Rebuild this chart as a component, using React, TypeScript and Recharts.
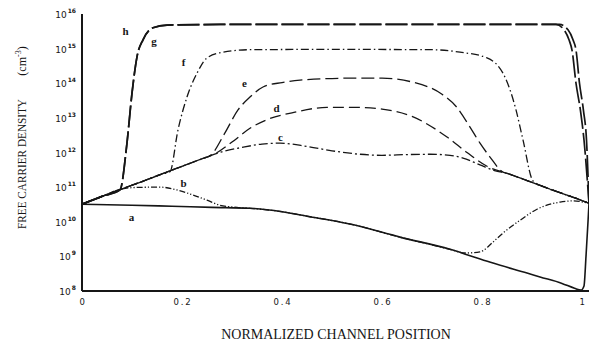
import React from "react";
import { LineChart, Line, XAxis, YAxis, ReferenceDot } from "recharts";

type Pt = { x: number; n: number };

// Free carrier density (cm^-3) against normalized channel position, curves a–h
const curveA: Pt[] = [
  { x: 0, n: 3.2e10 },
  { x: 0.1, n: 3.0e10 },
  { x: 0.18, n: 2.8e10 },
  { x: 0.26, n: 2.6e10 },
  { x: 0.336, n: 2.45e10 },
  { x: 0.4, n: 1.95e10 },
  { x: 0.45, n: 1.45e10 },
  { x: 0.536, n: 8.6e9 },
  { x: 0.636, n: 3.6e9 },
  { x: 0.736, n: 1.6e9 },
  { x: 0.776, n: 1.05e9 },
  { x: 0.822, n: 6.4e8 },
  { x: 0.89, n: 3.3e8 },
  { x: 0.916, n: 2.55e8 },
  { x: 0.96, n: 1.66e8 },
  { x: 0.985, n: 1.2e8 },
  { x: 0.998, n: 1.06e8 },
  { x: 1.004, n: 1.4e8 },
  { x: 1.008, n: 1.0e9 },
  { x: 1.012, n: 1.0e10 },
  { x: 1.014, n: 3.4e10 },
];

const curveB: Pt[] = [
  { x: 0, n: 3.2e10 },
  { x: 0.04, n: 5.4e10 },
  { x: 0.08, n: 8.9e10 },
  { x: 0.11, n: 9.8e10 },
  { x: 0.156, n: 1.0e11 },
  { x: 0.19, n: 8.3e10 },
  { x: 0.222, n: 5.9e10 },
  { x: 0.25, n: 4.2e10 },
  { x: 0.276, n: 3.0e10 },
  { x: 0.31, n: 2.6e10 },
  { x: 0.336, n: 2.45e10 },
  { x: 0.4, n: 1.95e10 },
  { x: 0.45, n: 1.45e10 },
  { x: 0.536, n: 8.6e9 },
  { x: 0.636, n: 3.6e9 },
  { x: 0.736, n: 1.6e9 },
  { x: 0.766, n: 1.25e9 },
  { x: 0.796, n: 1.35e9 },
  { x: 0.822, n: 2.6e9 },
  { x: 0.842, n: 4.7e9 },
  { x: 0.876, n: 1.1e10 },
  { x: 0.91, n: 2.3e10 },
  { x: 0.956, n: 3.7e10 },
  { x: 0.982, n: 4.0e10 },
  { x: 1.014, n: 3.4e10 },
];

const curveC: Pt[] = [
  { x: 0, n: 3.2e10 },
  { x: 0.04, n: 5.4e10 },
  { x: 0.08, n: 8.9e10 },
  { x: 0.12, n: 1.45e11 },
  { x: 0.16, n: 2.4e11 },
  { x: 0.2, n: 4.0e11 },
  { x: 0.24, n: 6.6e11 },
  { x: 0.28, n: 1.05e12 },
  { x: 0.32, n: 1.4e12 },
  { x: 0.36, n: 1.75e12 },
  { x: 0.396, n: 1.86e12 },
  { x: 0.45, n: 1.5e12 },
  { x: 0.5, n: 1.12e12 },
  { x: 0.556, n: 8.9e11 },
  { x: 0.6, n: 8.3e11 },
  { x: 0.65, n: 8.7e11 },
  { x: 0.696, n: 8.9e11 },
  { x: 0.736, n: 8.3e11 },
  { x: 0.762, n: 6.9e11 },
  { x: 0.796, n: 4.4e11 },
  { x: 0.825, n: 3.0e11 },
  { x: 0.852, n: 2.45e11 },
  { x: 0.88, n: 1.75e11 },
  { x: 0.92, n: 1.07e11 },
  { x: 0.96, n: 6.6e10 },
  { x: 1.0, n: 4.1e10 },
  { x: 1.014, n: 3.4e10 },
];

const curveD: Pt[] = [
  { x: 0, n: 3.2e10 },
  { x: 0.04, n: 5.4e10 },
  { x: 0.08, n: 8.9e10 },
  { x: 0.12, n: 1.45e11 },
  { x: 0.16, n: 2.4e11 },
  { x: 0.2, n: 4.0e11 },
  { x: 0.24, n: 6.6e11 },
  { x: 0.265, n: 9.0e11 },
  { x: 0.3, n: 2.0e12 },
  { x: 0.336, n: 5.0e12 },
  { x: 0.37, n: 8.9e12 },
  { x: 0.42, n: 1.4e13 },
  { x: 0.49, n: 2.0e13 },
  { x: 0.556, n: 2.0e13 },
  { x: 0.6, n: 1.8e13 },
  { x: 0.66, n: 1.1e13 },
  { x: 0.73, n: 2.8e12 },
  { x: 0.77, n: 1.0e12 },
  { x: 0.81, n: 4.0e11 },
  { x: 0.852, n: 2.45e11 },
  { x: 0.88, n: 1.75e11 },
  { x: 0.92, n: 1.07e11 },
  { x: 0.96, n: 6.6e10 },
  { x: 1.0, n: 4.1e10 },
  { x: 1.014, n: 3.4e10 },
];

const curveE: Pt[] = [
  { x: 0, n: 3.2e10 },
  { x: 0.04, n: 5.4e10 },
  { x: 0.08, n: 8.9e10 },
  { x: 0.12, n: 1.45e11 },
  { x: 0.16, n: 2.4e11 },
  { x: 0.2, n: 4.0e11 },
  { x: 0.24, n: 6.6e11 },
  { x: 0.258, n: 8.5e11 },
  { x: 0.285, n: 3.5e12 },
  { x: 0.312, n: 1.7e13 },
  { x: 0.336, n: 4.0e13 },
  { x: 0.362, n: 7.8e13 },
  { x: 0.4, n: 1.05e14 },
  { x: 0.436, n: 1.23e14 },
  { x: 0.536, n: 1.4e14 },
  { x: 0.6, n: 1.4e14 },
  { x: 0.662, n: 1.07e14 },
  { x: 0.72, n: 4.8e13 },
  { x: 0.75, n: 2.0e13 },
  { x: 0.776, n: 5.4e12 },
  { x: 0.796, n: 1.86e12 },
  { x: 0.816, n: 7.4e11 },
  { x: 0.842, n: 2.7e11 },
  { x: 0.852, n: 2.45e11 },
  { x: 0.88, n: 1.75e11 },
  { x: 0.92, n: 1.07e11 },
  { x: 0.96, n: 6.6e10 },
  { x: 1.0, n: 4.1e10 },
  { x: 1.014, n: 3.4e10 },
];

const curveF: Pt[] = [
  { x: 0, n: 3.2e10 },
  { x: 0.04, n: 5.4e10 },
  { x: 0.08, n: 8.9e10 },
  { x: 0.12, n: 1.45e11 },
  { x: 0.16, n: 2.4e11 },
  { x: 0.176, n: 2.8e11 },
  { x: 0.192, n: 4.5e12 },
  { x: 0.21, n: 4.0e13 },
  { x: 0.23, n: 1.95e14 },
  { x: 0.25, n: 5.4e14 },
  { x: 0.282, n: 7.9e14 },
  { x: 0.336, n: 9.3e14 },
  { x: 0.5, n: 9.5e14 },
  { x: 0.7, n: 9.3e14 },
  { x: 0.756, n: 7.9e14 },
  { x: 0.81, n: 5.4e14 },
  { x: 0.846, n: 1.5e14 },
  { x: 0.868, n: 1.7e13 },
  { x: 0.882, n: 2.3e12 },
  { x: 0.902, n: 1.5e11 },
  { x: 0.92, n: 1.07e11 },
  { x: 0.96, n: 6.6e10 },
  { x: 1.0, n: 4.1e10 },
  { x: 1.014, n: 3.4e10 },
];

const curveG: Pt[] = [
  { x: 0, n: 3.2e10 },
  { x: 0.04, n: 5.4e10 },
  { x: 0.076, n: 8.3e10 },
  { x: 0.09, n: 1.9e12 },
  { x: 0.1, n: 5.2e13 },
  { x: 0.11, n: 5.8e14 },
  { x: 0.122, n: 1.8e15 },
  { x: 0.142, n: 4.0e15 },
  { x: 0.17, n: 4.8e15 },
  { x: 0.3, n: 5.0e15 },
  { x: 0.6, n: 5.0e15 },
  { x: 0.948, n: 5.0e15 },
  { x: 0.964, n: 3.5e15 },
  { x: 0.974, n: 1.8e15 },
  { x: 0.98, n: 9.1e14 },
  { x: 0.988, n: 1.0e14 },
  { x: 0.997, n: 1.6e13 },
  { x: 1.004, n: 2.3e12 },
  { x: 1.014, n: 3.4e10 },
];

const curveH: Pt[] = [
  { x: 0, n: 3.2e10 },
  { x: 0.04, n: 5.4e10 },
  { x: 0.076, n: 8.3e10 },
  { x: 0.09, n: 1.9e12 },
  { x: 0.1, n: 5.2e13 },
  { x: 0.11, n: 5.8e14 },
  { x: 0.122, n: 1.8e15 },
  { x: 0.142, n: 4.0e15 },
  { x: 0.17, n: 4.8e15 },
  { x: 0.3, n: 5.0e15 },
  { x: 0.6, n: 5.0e15 },
  { x: 0.955, n: 5.0e15 },
  { x: 0.972, n: 3.5e15 },
  { x: 0.982, n: 1.8e15 },
  { x: 0.988, n: 9.1e14 },
  { x: 0.995, n: 1.0e14 },
  { x: 1.003, n: 1.6e13 },
  { x: 1.009, n: 2.3e12 },
  { x: 1.014, n: 3.4e10 },
];

// Axis ticks
const decadeTicks = [1e8, 1e9, 1e10, 1e11, 1e12, 1e13, 1e14, 1e15, 1e16];
const minorTicks = [
  2e8, 5e8, 2e9, 5e9, 2e10, 5e10, 2e11, 5e11, 2e12, 5e12,
  2e13, 5e13, 2e14, 5e14, 2e15, 5e15,
];
const positionTicks = [0, 0.2, 0.4, 0.6, 0.8, 1];
const positionLabels = ["0", "0.2", "0.4", "0.6", "0.8", "1"];
const innerPositionTicks = [0.2, 0.4, 0.6, 0.8];

// Curve letters and where they sit
const curveLetters = [
  { id: "a", x: 0.099, n: 1.4e10 },
  { id: "b", x: 0.203, n: 1.3e11 },
  { id: "c", x: 0.397, n: 2.8e12 },
  { id: "d", x: 0.389, n: 1.9e13 },
  { id: "e", x: 0.325, n: 1.05e14 },
  { id: "f", x: 0.203, n: 4.2e14 },
  { id: "g", x: 0.144, n: 1.7e15 },
  { id: "h", x: 0.087, n: 3.2e15 },
];

const INK = "#161616";
const X_DOMAIN: [number, number] = [0, 1.014];
const Y_DOMAIN: [number, number] = [1e8, 1e16];

const DecadeTick = (props: any) => {
  const { x, y, payload } = props;
  const exp = Math.round(Math.log10(payload.value));
  return (
    <text
      x={x}
      y={y + 4}
      textAnchor="end"
      fontFamily="DejaVu Sans"
      fontSize={9}
      fill={INK}
    >
      10
      <tspan dx={1} dy={-5} fontSize={6} fontWeight="bold">
        {exp}
      </tspan>
    </text>
  );
};

const PositionTick = (props: any) => {
  const { x, y, payload } = props;
  const i = positionTicks.indexOf(payload.value);
  return (
    <text
      x={x + 1}
      y={y + 8}
      textAnchor="middle"
      fontFamily="DejaVu Sans"
      fontSize={8.5}
      letterSpacing={1.8}
      fill={INK}
    >
      {i >= 0 ? positionLabels[i] : ""}
    </text>
  );
};

const letterShape = (id: string) => (p: any) => (
  <text
    x={p.cx}
    y={p.cy}
    textAnchor="middle"
    dominantBaseline="central"
    fontFamily="Liberation Serif"
    fontWeight="bold"
    fontSize={11}
    fill={INK}
  >
    {id}
  </text>
);

export default function App() {
  return (
    <div style={{ position: "absolute", left: 0, top: 0, width: 592, height: 344, background: "#fff" }}>
      <LineChart
        width={592}
        height={344}
        margin={{ top: 14, right: 3, bottom: 33, left: 0 }}
      >
        <XAxis
          dataKey="x"
          type="number"
          domain={X_DOMAIN}
          allowDataOverflow
          ticks={positionTicks}
          height={20}
          tickSize={4}
          tickMargin={2}
          tickLine={false}
          axisLine={{ stroke: INK, strokeWidth: 2 }}
          tick={<PositionTick />}
          interval={0}
        />
        <XAxis
          xAxisId="bottomInner"
          dataKey="x"
          type="number"
          domain={X_DOMAIN}
          allowDataOverflow
          ticks={innerPositionTicks}
          orientation="bottom"
          mirror
          height={0}
          tickSize={4}
          tick={false}
          axisLine={false}
          tickLine={{ stroke: INK, strokeWidth: 1 }}
          interval={0}
        />
        <XAxis
          xAxisId="top"
          dataKey="x"
          type="number"
          domain={X_DOMAIN}
          allowDataOverflow
          ticks={innerPositionTicks}
          orientation="top"
          mirror
          height={0}
          tickSize={3}
          tick={false}
          axisLine={{ stroke: INK, strokeWidth: 1.5 }}
          tickLine={{ stroke: INK, strokeWidth: 1 }}
          interval={0}
        />
        <YAxis
          type="number"
          scale="log"
          domain={Y_DOMAIN}
          allowDataOverflow
          ticks={decadeTicks}
          width={82}
          tickSize={4}
          tickMargin={2}
          tickLine={false}
          axisLine={{ stroke: INK, strokeWidth: 2 }}
          tick={<DecadeTick />}
          interval={0}
        />
        <YAxis
          yAxisId="leftInner"
          type="number"
          scale="log"
          domain={Y_DOMAIN}
          allowDataOverflow
          ticks={[...decadeTicks, ...minorTicks]}
          orientation="left"
          mirror
          width={0}
          tickSize={3}
          tick={false}
          axisLine={false}
          tickLine={{ stroke: INK, strokeWidth: 1 }}
          interval={0}
        />
        <YAxis
          yAxisId="right"
          type="number"
          scale="log"
          domain={Y_DOMAIN}
          allowDataOverflow
          ticks={[...decadeTicks, ...minorTicks]}
          orientation="right"
          mirror
          width={0}
          tickSize={3}
          tick={false}
          axisLine={{ stroke: INK, strokeWidth: 1.5 }}
          tickLine={{ stroke: INK, strokeWidth: 1 }}
          interval={0}
        />

        <Line data={curveA} dataKey="n" type="monotone" dot={false} stroke={INK} strokeWidth={1.6} isAnimationActive={false} />
        <Line data={curveB} dataKey="n" type="monotone" dot={false} stroke={INK} strokeWidth={1.3} strokeDasharray="6 2 1.2 2 1.2 2" isAnimationActive={false} />
        <Line data={curveC} dataKey="n" type="monotone" dot={false} stroke={INK} strokeWidth={1.3} strokeDasharray="9 3 2 3" isAnimationActive={false} />
        <Line data={curveD} dataKey="n" type="monotone" dot={false} stroke={INK} strokeWidth={1.3} strokeDasharray="11 5" isAnimationActive={false} />
        <Line data={curveE} dataKey="n" type="monotone" dot={false} stroke={INK} strokeWidth={1.3} strokeDasharray="13 5" isAnimationActive={false} />
        <Line data={curveF} dataKey="n" type="monotone" dot={false} stroke={INK} strokeWidth={1.3} strokeDasharray="8 3 1.5 3" isAnimationActive={false} />
        <Line data={curveG} dataKey="n" type="monotone" dot={false} stroke={INK} strokeWidth={1.7} strokeDasharray="22 4" isAnimationActive={false} />
        <Line data={curveH} dataKey="n" type="monotone" dot={false} stroke={INK} strokeWidth={1.7} strokeDasharray="22 4" isAnimationActive={false} />

        {curveLetters.map((c) => (
          <ReferenceDot
            key={c.id}
            x={c.x}
            y={c.n}
            r={0}
            shape={letterShape(c.id)}
          />
        ))}
      </LineChart>

      <svg
        width={592}
        height={344}
        style={{ position: "absolute", left: 0, top: 0, pointerEvents: "none" }}
      >
        <text
          transform="translate(26,164) rotate(-90)"
          textAnchor="middle"
          fontFamily="Liberation Serif"
          fontSize={13}
          textLength={130}
          lengthAdjust="spacingAndGlyphs"
          fill={INK}
        >
          FREE CARRIER DENSITY
        </text>
        <text
          transform="translate(26,61) rotate(-90)"
          textAnchor="middle"
          fontFamily="Liberation Serif"
          fontSize={12}
          fill={INK}
        >
          (cm
          <tspan dy={-5} fontSize={8}>-3</tspan>
          <tspan dy={5}>)</tspan>
        </text>
        <text
          x={336}
          y={339}
          textAnchor="middle"
          fontFamily="Liberation Serif"
          fontSize={14}
          fill={INK}
        >
          NORMALIZED CHANNEL POSITION
        </text>
      </svg>
    </div>
  );
}
